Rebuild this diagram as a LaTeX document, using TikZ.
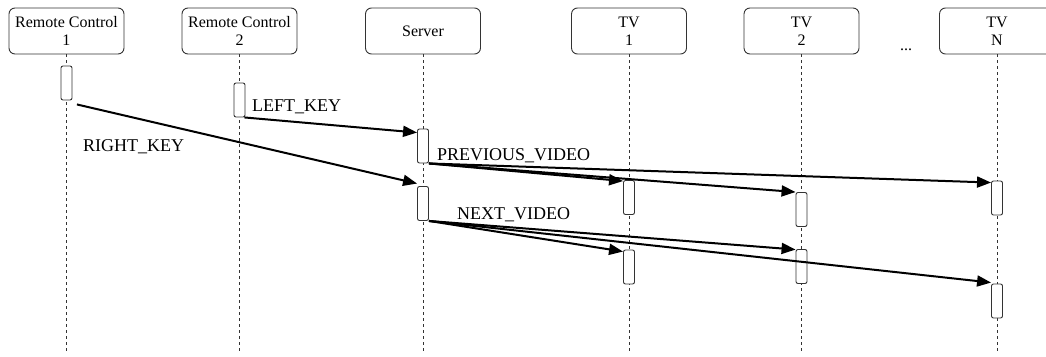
\documentclass[tikz,border=0pt]{standalone}
\usepackage{fontspec}
\setmainfont{Liberation Serif}
\usetikzlibrary{arrows.meta}
\begin{document}
\begin{tikzpicture}[x=1pt,y=-1pt,
  actor/.style={draw=black!80, line width=0.9pt, rounded corners=6pt,
    minimum width=115pt, minimum height=46pt, align=center,
    font=\fontsize{16}{18}\selectfont, inner sep=0pt},
  life/.style={draw=black!80, line width=0.8pt, dash pattern=on 3pt off 3pt},
  act/.style={draw=black!80, fill=white, line width=0.9pt, rounded corners=2pt,
    minimum width=11pt, minimum height=34pt, inner sep=0pt},
  msg/.style={draw=black, line width=2pt, -{Triangle[length=14pt,width=11pt]}},
  lbl/.style={font=\fontsize{18}{20}\selectfont, inner sep=0pt, anchor=base west}]
\useasboundingbox (0,0) rectangle (1046,356);

% participants
\node[actor] (rc1) at (66.5,31) {Remote Control\\1};
\node[actor] (rc2) at (239.5,31) {Remote Control\\2};
\node[actor] (srv) at (423,31) {Server};
\node[actor] (tv1) at (629,31) {TV\\1};
\node[actor] (tv2) at (801.5,31) {TV\\2};
\node[actor] (tvn) at (997,31) {TV\\N};
\node[font=\fontsize{16}{18}\selectfont, inner sep=0pt, anchor=base] (dots) at (906,50) {...};

% lifelines
\coordinate (rc1e) at (66.5,352);
\coordinate (rc2e) at (239.5,352);
\coordinate (srve) at (423,352);
\coordinate (tv1e) at (629,352);
\coordinate (tv2e) at (801.5,352);
\coordinate (tvne) at (997,352);
\draw[life] (rc1.south) -- (rc1e);
\draw[life] (rc2.south) -- (rc2e);
\draw[life] (srv.south) -- (srve);
\draw[life] (tv1.south) -- (tv1e);
\draw[life] (tv2.south) -- (tv2e);
\draw[life] (tvn.south) -- (tvne);

% activation bars
\node[act] (rc1a) at (66.5,83) {};
\node[act] (rc2a) at (239.5,100) {};
\node[act] (srva) at (423,146) {};
\node[act] (srvb) at (423,203.5) {};
\node[act] (tv1a) at (629,197.5) {};
\node[act] (tv1b) at (629,267) {};
\node[act] (tv2a) at (801.5,209.5) {};
\node[act] (tv2b) at (801.5,266.5) {};
\node[act] (tvna) at (997,198) {};
\node[act] (tvnb) at (997,301) {};

% key presses
\draw[msg] ([xshift=4.5pt,yshift=-4pt]rc1a.south east) -- ([yshift=2.5pt]srvb.north west);
\draw[msg] ([xshift=-1pt]rc2a.south east) -- ([yshift=-4pt]srva.north west);
\node[lbl] (lright) at (83,151.5) {RIGHT\_KEY};
\node[lbl] (lleft) at (252,111.5) {LEFT\_KEY};

% broadcasts to the TVs
\draw[msg] (srva.south east) -- ([yshift=-1pt]tv1a.north west);
\draw[msg] (srva.south east) -- (tv2a.north west);
\draw[msg] (srva.south east) -- ([yshift=-2pt]tvna.north west);
\draw[msg] (srvb.south east) -- ([yshift=-2pt]tv1b.north west);
\draw[msg] (srvb.south east) -- ([yshift=-0.5pt]tv2b.north west);
\draw[msg] (srvb.south east) -- ([yshift=1pt]tvnb.north west);
\node[lbl] (lprev) at (437,160) {PREVIOUS\_VIDEO};
\node[lbl] (lnext) at (457,219.3) {NEXT\_VIDEO};
\end{tikzpicture}
\end{document}
